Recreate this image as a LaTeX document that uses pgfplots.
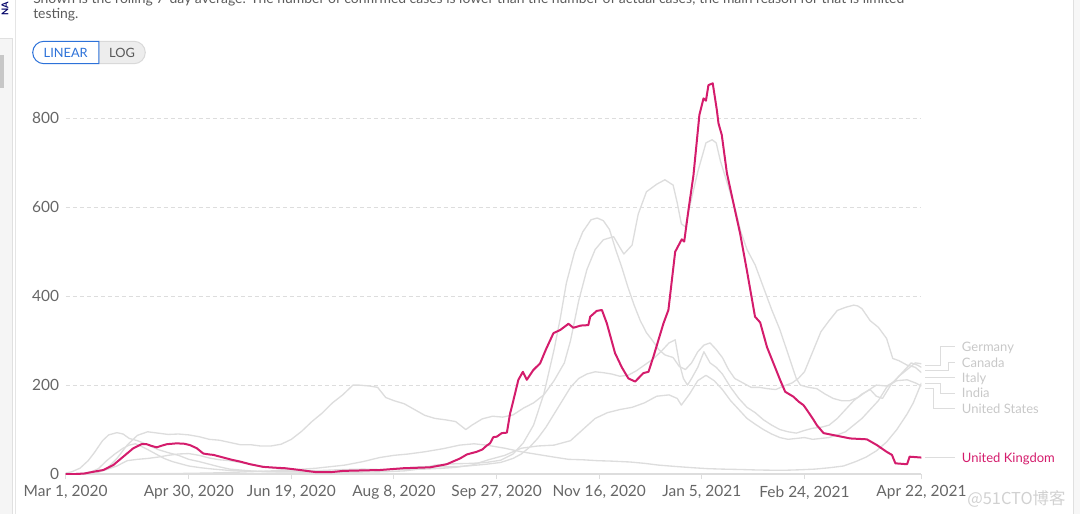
\documentclass[border=0pt]{standalone}
\usepackage{fontspec}
\setmainfont{Lato}
\newfontfamily\cjk{Noto Sans CJK SC}
\usepackage{pgfplots}
\pgfplotsset{compat=1.18}
\definecolor{uk}{HTML}{D41C6C}
\definecolor{gl}{HTML}{DDDDDD}
\definecolor{ticktext}{HTML}{666666}
\definecolor{desc}{HTML}{5B5B5B}
\definecolor{leg}{HTML}{C8C8C8}
\definecolor{btnblue}{HTML}{2D72D9}

\pgfplotstableread{
d v
0 0.1
10 0.5
15 2
20 12
25 35
30 65
35 87
40 95
45 92
50 89
55 90
60 88
65 84
70 78
75 76
80 71
85 66
90 66
95 63
100 63
105 67
110 78
115 96
120 118
125 137
130 160
135 178
140 200
143 200
148 198
152 195
156 172
160 165
165 158
170 145
175 132
180 125
185 122
190 118
195 100
198 110
203 124
208 130
213 128
218 133
223 148
228 160
233 178
238 210
243 250
246 300
250 390
254 460
258 505
262 527
267 534
270 510
272 495
276 515
279 585
283 635
288 652
292 662
296 650
298 610
300 563
302 556
304 600
308 680
312 745
315 752
317 745
319 705
322 660
326 600
329 545
332 505
336 470
340 420
344 370
348 325
352 270
356 215
358 200
362 195
366 192
370 180
374 170
378 165
382 165
386 172
390 185
395 200
400 198
405 210
410 212
414 205
417 198
}\us

\pgfplotstableread{
d v
0 2
3 5
7 13
11 30
14 48
18 75
21 88
25 93
28 90
31 80
35 75
40 66
45 55
50 48
55 42
60 33
65 28
70 22
75 16
80 11
90 7
100 5
120 4
140 4
155 5
165 7
172 11
180 20
185 22
190 23
198 24
205 26
212 31
218 45
223 70
228 110
233 180
238 280
241 350
244 430
248 500
252 545
256 572
259 576
262 570
265 550
268 505
271 465
274 420
277 380
280 345
283 318
286 300
289 280
292 268
296 262
299 242
302 235
305 250
308 275
311 290
314 295
317 280
320 262
323 235
326 215
330 205
334 195
338 195
342 192
346 190
350 198
354 205
357 215
360 230
364 275
368 320
372 345
376 368
380 375
384 380
386 378
388 372
392 345
396 330
400 305
403 260
406 255
410 245
414 240
417 228
}\italy

\pgfplotstableread{
d v
0 0.3
8 1
12 4
16 12
20 30
24 45
28 58
31 65
34 68
37 62
40 55
44 45
48 35
52 28
56 23
60 18
66 14
72 11
80 8
90 6
100 5
120 5
130 5
140 6
150 8
158 10
165 13
172 16
178 17
185 16
192 17
198 19
205 22
212 26
218 35
222 45
226 60
230 80
234 105
238 135
242 165
246 195
250 215
254 225
258 230
262 228
266 225
270 220
274 222
278 232
282 245
286 258
290 275
294 295
297 302
299 250
301 215
303 200
305 215
308 240
311 275
314 250
317 240
320 225
324 195
328 170
332 150
336 138
340 122
344 110
348 100
352 95
356 92
360 98
364 103
368 105
372 110
376 125
380 145
384 165
388 180
392 190
395 175
398 170
402 200
406 220
410 235
414 250
417 248
}\germany

\pgfplotstableread{
d v
0 0
14 2
20 10
25 18
30 30
35 33
40 35
45 38
50 42
55 45
60 46
65 42
70 36
75 32
80 30
85 26
92 20
100 14
106 10
115 8
125 8
135 10
145 11
155 10
165 10
175 11
184 13
190 15
198 20
206 32
214 42
222 58
230 63
238 65
246 75
252 100
258 125
264 138
270 145
276 150
282 160
288 175
294 178
298 170
300 155
304 180
308 210
312 222
316 210
320 190
324 165
328 145
332 125
336 112
340 100
344 90
348 82
352 78
356 80
360 82
364 78
368 80
372 82
376 88
380 95
384 110
388 125
392 145
396 165
400 195
404 210
408 230
412 250
415 245
417 240
}\canada

\pgfplotstableread{
d v
0 0
30 0.3
45 0.7
61 1.5
75 2.7
92 5.5
106 8
122 13
136 20
145 28
153 37
160 42
167 45
175 50
184 57
192 65
199 68
205 65
214 58
222 50
230 44
238 38
245 33
252 32
259 30
266 29
275 27
282 24
289 20
297 17
306 14
313 12
320 11
330 10
337 9
345 8.5
351 8.5
358 9.5
365 11
372 14
379 18
385 28
390 38
395 52
400 72
405 100
410 135
413 160
417 205
}\india

\pgfplotstableread{
d v
0 0
5 0
9 1
13.5 5
18.4 9
23.2 20
28.1 39
33 58
37 67
39.5 67
42 63
44.4 60
47 64
49.3 67
54.1 69
58 68
60.6 65
63.9 58
67.1 46
70 44
72 43
76.9 37
81 32
85 28
89.9 22
96.3 16
102.9 14
107 13
114.2 9
119 6
122.4 4
128.9 4
135.3 7
144 8
153.2 9
164.6 13
177.6 15
185.7 22
192.2 35
195.5 44
200.3 50
203 55
205.2 64
206.8 69
208.4 83
210.1 84
212.5 92
215 93
216.6 137
217.4 151
220.6 212
222.8 230
224.7 212
227.9 234
231.2 249
234 280
237.7 317
241 324
245 338
247.4 329
251 334
254.7 335
255.6 354
258.8 367
261.3 369
263.7 339
267.7 272
271 240
274.2 215
277.5 208
281.5 227
284 230
286.4 264
291.3 339
293.7 369
297 500
300.2 528
301.4 523
303.5 595
305.9 672
308.8 808
310.8 845
312 840
313.2 875
315.3 879
317.3 819
318.1 789
319.7 763
322.2 677
325.4 609
328.6 542
331.9 459
335.9 354
338.4 341
341.7 286
344.9 249
348.1 212
350.6 185
354.6 174
357.1 163
359.5 155
361.2 144
364.4 122
366 110
369.3 92
375.8 86
382.3 80
390.4 78
395.3 65
400 50
402.6 43
404.3 24
410 22
411.2 39
417 37
}\uk

\begin{document}
\begin{tikzpicture}[x=0.75pt,y=0.75pt]
\useasboundingbox (0,0) rectangle (1080,514);
% left sidebar
\fill[black!4] (0,0) rectangle (12,476);
\draw[black!12] (0,476) -- (12,476) -- (12,0);
\fill[black!22] (0,426) rectangle (4,459);
\draw[black!10, line width=0.75pt] (15.5,0) -- (15.5,514);
\node[rotate=90, anchor=center, text=blue!40!black, font=\bfseries\fontsize{7}{8}\selectfont, inner sep=0pt] at (5,505) {NA};
% right scrollbar
\fill[black!3] (1073,0) rectangle (1080,514);
\draw[black!12] (1073,0) -- (1073,514);
% description text
\node[anchor=base west, inner sep=0pt, text=desc, font=\fontsize{10.45}{13}\selectfont] at (33,510) {Shown is the rolling 7-day average. The number of confirmed cases is lower than the number of actual cases; the main reason for that is limited};
\node[anchor=base west, inner sep=0pt, text=desc, font=\fontsize{10.45}{13}\selectfont] at (33,495) {testing.};
% buttons
\draw[fill=black!7, draw=black!15, line width=0.75pt] (98.8,472.7) -- (134.1,472.7) arc[start angle=90,end angle=-90,radius=11.2] -- (98.8,450.3) -- cycle;
\draw[fill=white, draw=btnblue, line width=0.75pt] (98.8,472.7) -- (43.9,472.7) arc[start angle=90,end angle=270,radius=11.2] -- (98.8,450.3) -- cycle;
\node[text=btnblue, font=\fontsize{9.6}{11}\selectfont, inner sep=0pt] at (65.7,461.5) {LINEAR};
\node[text=black!65, font=\fontsize{9.6}{11}\selectfont, inner sep=0pt] at (122,461.5) {LOG};

\begin{axis}[
  at={(49.2pt,30pt)}, anchor=south west,
  scale only axis, width=641.9pt, height=300pt,
  xmin=0, xmax=417, ymin=0, ymax=900,
  axis x line*=bottom, axis y line*=left,
  x axis line style={draw=gl, line width=1pt},
  y axis line style={draw=none},
  xtick={0,60,110,160,210,260,310,360,417},
  xticklabels={{Mar 1, 2020},{Apr 30, 2020},{Jun 19, 2020},{Aug 8, 2020},{Sep 27, 2020},{Nov 16, 2020},{Jan 5, 2021},{Feb 24, 2021},{Apr 22, 2021}},
  ytick={0,200,400,600,800},
  xtick align=outside,
  major tick length=3.75pt,
  x tick style={draw=gl, line width=0.75pt},
  y tick style={draw=none},
  ymajorgrids,
  y grid style={draw=gl, dash pattern=on 3pt off 2.25pt, line width=0.6pt},
  tick label style={font=\fontsize{11.6}{13}\selectfont, text=ticktext},
  xticklabel style={inner sep=0pt, anchor=north, yshift=-4.8pt},
  yticklabel style={inner sep=0pt, anchor=east, xshift=-4.7pt},
  /pgf/number format/assume math mode=true,
  every axis plot/.append style={line join=round},
]
\addplot[gl, line width=1pt] table[x=d,y=v] {\us};
\addplot[gl, line width=1pt] table[x=d,y=v] {\italy};
\addplot[gl, line width=1pt] table[x=d,y=v] {\germany};
\addplot[gl, line width=1pt] table[x=d,y=v] {\canada};
\addplot[gl, line width=1pt] table[x=d,y=v] {\india};
\addplot[uk, line width=1.5pt] table[x=d,y=v] {\uk};
\end{axis}

% leader lines
\begin{scope}[draw=gl, line width=0.75pt]
\draw (925,149) -- (940,149) -- (940,167) -- (955,167);
\draw (925,144) -- (948,144) -- (948,152) -- (955,152);
\draw (925,137) -- (955,137);
\draw (925,131) -- (940,131) -- (940,121) -- (955,121);
\draw (925,126) -- (933,126) -- (933,106) -- (955,106);
\draw (925,56.3) -- (955,56.3);
\end{scope}
\begin{scope}[every node/.style={anchor=base west, inner sep=0pt, font=\fontsize{9.75}{11}\selectfont}]
\node[text=leg] at (961.7,162) {Germany};
\node[text=leg] at (961.7,146.7) {Canada};
\node[text=leg] at (961.7,131.4) {Italy};
\node[text=leg] at (961.7,116.1) {India};
\node[text=leg] at (961.7,100.8) {United States};
\node[text=uk] at (961.7,52) {United Kingdom};
\end{scope}
% watermark
\node[anchor=base west, inner sep=0pt, text=black!18, font=\cjk\fontsize{12.3}{14}\selectfont] at (967,10) {@51CTO博客};
\end{tikzpicture}
\end{document}
